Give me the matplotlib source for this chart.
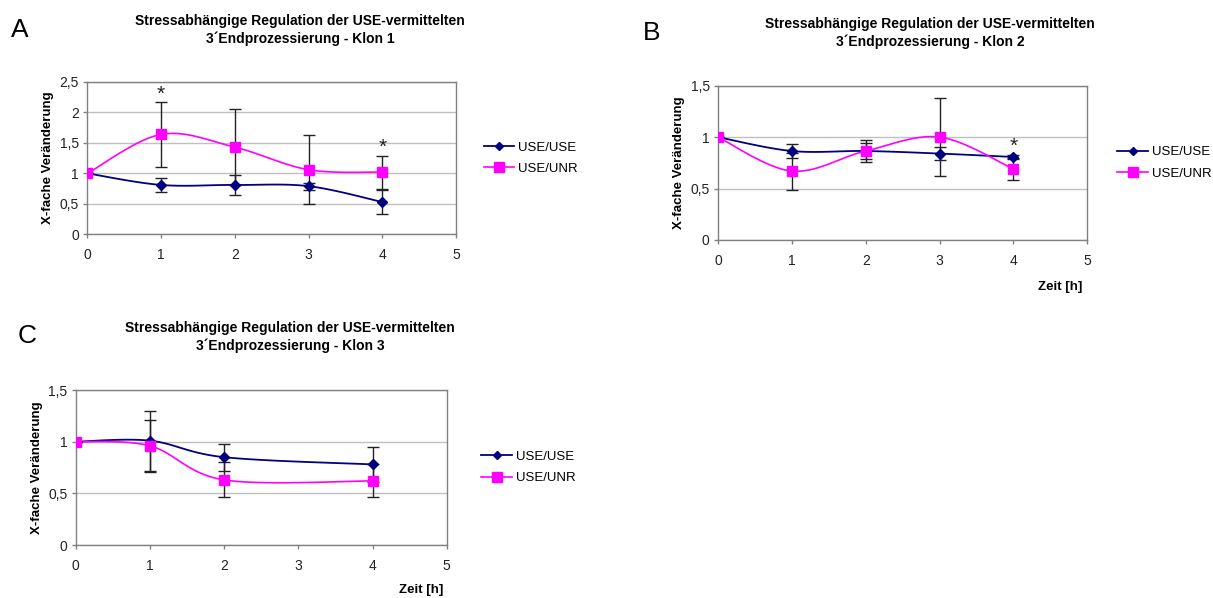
import matplotlib.pyplot as plt
import numpy as np

plt.rcParams['font.family'] = ['Liberation Sans', 'DejaVu Sans']

# data
titel = "Stressabhängige Regulation der USE-vermittelten\n3´Endprozessierung - Klon {}"
serien = ["USE/USE", "USE/UNR"]

zeit_a = [0, 1, 2, 3, 4]
use_use_a = [1.0, 0.81, 0.81, 0.79, 0.53]
use_use_a_err = [0, 0.12, 0.16, 0.06, 0.20]
use_unr_a = [1.0, 1.64, 1.43, 1.06, 1.02]
use_unr_a_err = [0, 0.53, 0.62, 0.57, 0.27]
sterne_a = [1, 4]

zeit_b = [0, 1, 2, 3, 4]
use_use_b = [1.0, 0.865, 0.865, 0.84, 0.807]
use_use_b_err = [0, 0.065, 0.075, 0.06, 0.02]
use_unr_b = [1.0, 0.67, 0.865, 1.0, 0.69]
use_unr_b_err = [0, 0.18, 0.11, 0.38, 0.11]
sterne_b = [4]

zeit_c = [0, 1, 2, 4]
use_use_c = [1.0, 1.01, 0.85, 0.78]
use_use_c_err = [0, 0.29, 0.13, 0.17]
use_unr_c = [1.0, 0.96, 0.63, 0.62]
use_unr_c_err = [0, 0.25, 0.17, 0.16]
sterne_c = []

x_ticks = [0, 1, 2, 3, 4, 5]
y_ticks_a = [0, 0.5, 1, 1.5, 2, 2.5]
y_ticks_bc = [0, 0.5, 1, 1.5]

navy = "#000080"
magenta = "#ff00ff"
grau = "#808080"


def smooth(x, y, n=30):
    # Excel-like smoothed line (Catmull-Rom / Bezier through the points)
    p = np.column_stack([x, y]).astype(float)
    p = np.vstack([p[0], p, p[-1]])
    t = np.linspace(0, 1, n)[:, None]
    out = []
    for i in range(1, len(p) - 2):
        b0 = p[i]
        b1 = p[i] + (p[i + 1] - p[i - 1]) / 6
        b2 = p[i + 1] - (p[i + 2] - p[i]) / 6
        b3 = p[i + 1]
        seg = ((1 - t) ** 3) * b0 + 3 * ((1 - t) ** 2) * t * b1 + 3 * (1 - t) * t ** 2 * b2 + t ** 3 * b3
        out.append(seg)
    out = np.vstack(out)
    return out[:, 0], out[:, 1]


def panel(fig, rect, x, uu, uu_err, ur, ur_err, sterne, yticks, klon, legend_x):
    ax = fig.add_axes(rect)

    sx, sy = smooth(x, uu)
    ax.plot(sx, sy, color=navy, lw=1.3, zorder=2)
    sx, sy = smooth(x, ur)
    ax.plot(sx, sy, color=magenta, lw=1.2, zorder=2)

    ax.errorbar(x, uu, yerr=uu_err, fmt='none', ecolor='#222222', elinewidth=1,
                capsize=4.5, capthick=1, zorder=3)
    ax.errorbar(x, ur, yerr=ur_err, fmt='none', ecolor='#222222', elinewidth=1,
                capsize=4.5, capthick=1, zorder=3)

    ax.plot(x, uu, ls='none', marker='D', ms=5, color=navy, zorder=4)
    ax.plot(x, ur, ls='none', marker='s', ms=6.5, color=magenta, zorder=4)

    # legend proxies
    h1, = ax.plot([], [], color=navy, lw=1.3, marker='D', ms=4.5)
    h2, = ax.plot([], [], color=magenta, lw=1.2, marker='s', ms=6.5)
    ax.legend([h1, h2], serien, loc='center left', bbox_to_anchor=(legend_x, 0.5),
              frameon=False, fontsize=9.5, handlelength=2.3, handletextpad=0.3,
              labelspacing=0.7, borderaxespad=0)

    for s in sterne:
        i = list(x).index(s)
        top = max(uu[i] + uu_err[i], ur[i] + ur_err[i])
        ax.annotate("*", (s, top), xytext=(0, -1), textcoords='offset points',
                    ha='center', va='bottom', fontsize=15, color='#222222')

    ax.set_xlim(0, 5)
    ax.set_ylim(0, yticks[-1])
    ax.set_xticks(x_ticks)
    ax.set_yticks(yticks)
    ax.set_yticklabels([f"{v:g}".replace('.', ',') for v in yticks])
    ax.yaxis.grid(True, color='#c0c0c0', lw=1)
    ax.set_axisbelow(True)
    for sp in ax.spines.values():
        sp.set_color(grau)
        sp.set_linewidth(1)
    ax.tick_params(axis='both', colors=grau, labelcolor='#222222', labelsize=10,
                   length=3, width=1, direction='out')
    ax.tick_params(axis='x', pad=7)
    ax.tick_params(axis='y', pad=3)
    ax.set_ylabel("X-fache Veränderung", fontsize=9.5, fontweight='bold', labelpad=4)
    ax.set_title(titel.format(klon), fontsize=10, fontweight='bold',
                 x=0.575, y=1.0, pad=0, linespacing=1.25)
    return ax


fig = plt.figure(figsize=(12.13, 5.98), dpi=100)

ax_a = panel(fig, [0.0721, 0.6082, 0.3038, 0.2547], zeit_a, use_use_a, use_use_a_err,
             use_unr_a, use_unr_a_err, sterne_a, y_ticks_a, 1, 1.062)
ax_b = panel(fig, [0.5919, 0.5987, 0.3045, 0.2580], zeit_b, use_use_b, use_use_b_err,
             use_unr_b, use_unr_b_err, sterne_b, y_ticks_bc, 2, 1.067)
ax_c = panel(fig, [0.0624, 0.0886, 0.3059, 0.2592], zeit_c, use_use_c, use_use_c_err,
             use_unr_c, use_unr_c_err, sterne_c, y_ticks_bc, 3, 1.079)

# titles placed in figure coordinates (pixels from the top)
for ax in (ax_a, ax_b, ax_c):
    ax.title.set_transform(fig.transFigure)
    ax.title.set_va('center')

ax_a.title.set_position((300 / 1213, 1 - 30 / 598))
ax_b.title.set_position((930 / 1213, 1 - 33 / 598))
ax_c.title.set_position((290 / 1213, 1 - 337 / 598))

fig.text(20 / 1213, 1 - 30 / 598, "A", fontsize=19, ha='center', va='center')
fig.text(652 / 1213, 1 - 33 / 598, "B", fontsize=19, ha='center', va='center')
fig.text(27 / 1213, 1 - 336 / 598, "C", fontsize=19, ha='center', va='center')

fig.text(1060 / 1213, 1 - 287 / 598, "Zeit [h]", fontsize=9.5, fontweight='bold',
         ha='center', va='center')
fig.text(421 / 1213, 1 - 590 / 598, "Zeit [h]", fontsize=9.5, fontweight='bold',
         ha='center', va='center')

fig.savefig("out.png", dpi=100, facecolor='white')
